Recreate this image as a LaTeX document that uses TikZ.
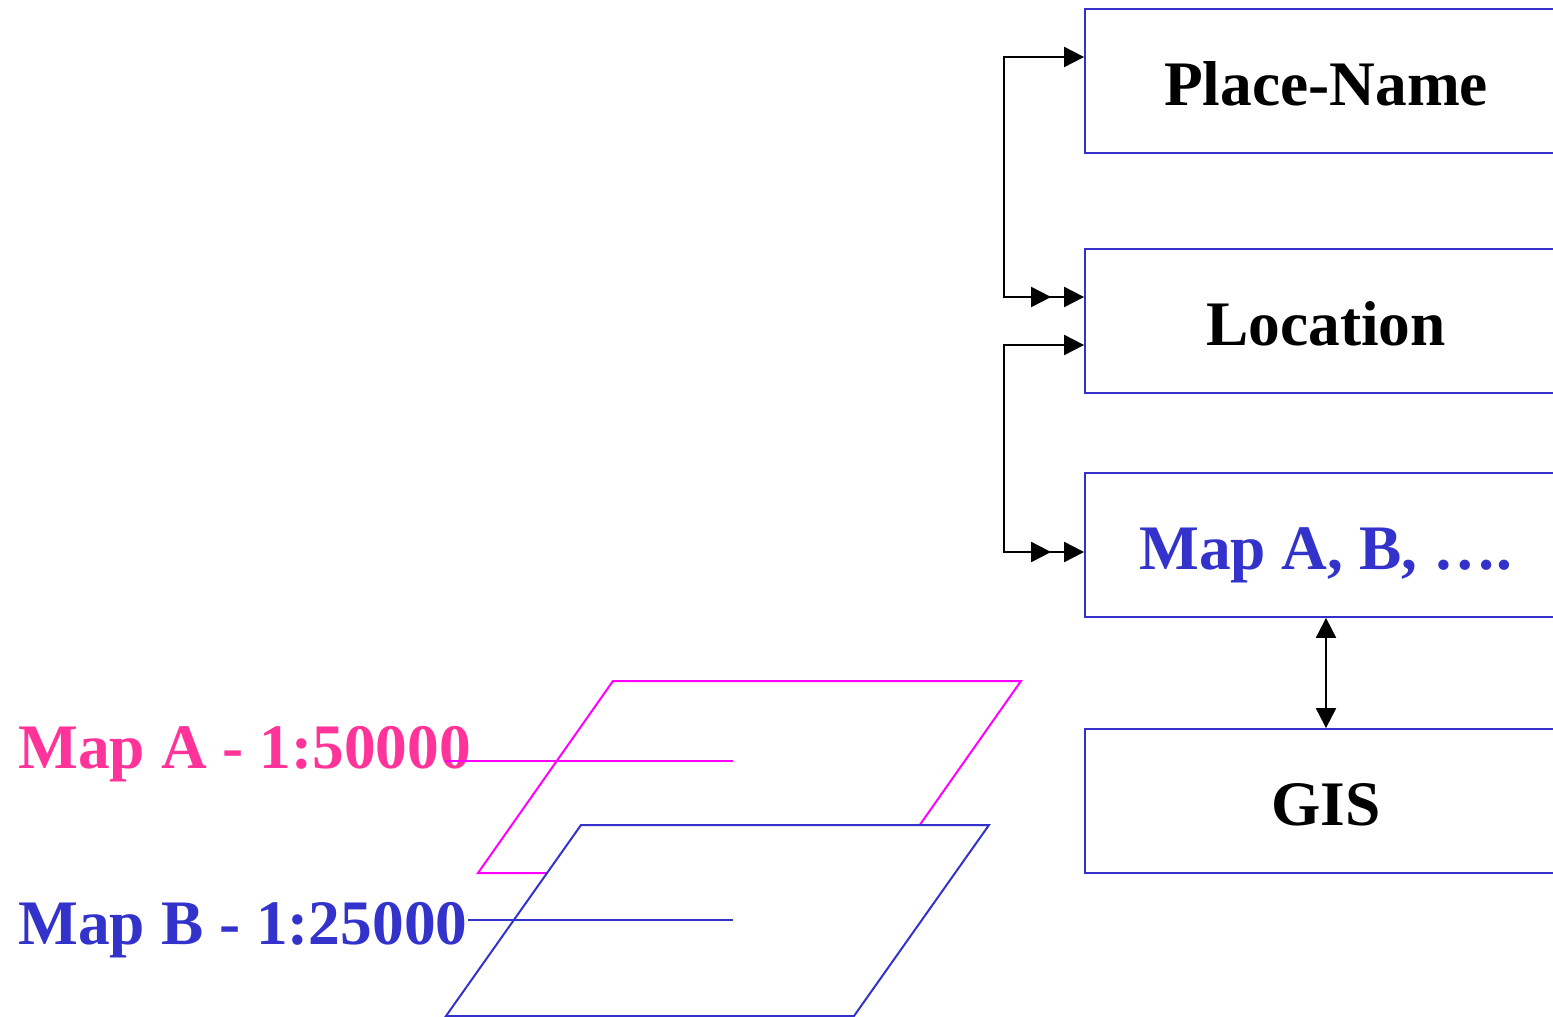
\documentclass[tikz,border=0pt]{standalone}
\usepackage{fontspec}
\setmainfont{Liberation Serif}
\usetikzlibrary{arrows.meta}
\definecolor{boxblue}{HTML}{3333CC}
\definecolor{mappink}{HTML}{FF3399}
\definecolor{sheetmag}{HTML}{FF00FF}
\begin{document}
\begin{tikzpicture}[x=0.5pt,y=-0.5pt,
  box/.style={draw=boxblue,line width=0.9pt,minimum width=241pt,minimum height=72pt,
    inner sep=0pt,text height=24pt,text depth=0pt,
    font=\fontsize{31.7}{38}\selectfont\bfseries},
  conn/.style={line width=1pt},
  maplabel/.style={anchor=base west,inner sep=0pt,font=\fontsize{31.7}{38}\selectfont\bfseries},
  sheet/.style={line width=1pt,line join=miter}]
\clip (0,0) rectangle (1553,1017);

% record boxes
\node[box] (pn)   at (1326,81)  {Place-Name};
\node[box] (loc)  at (1326,321) {Location};
\node[box,text=boxblue] (maps) at (1326,545) {Map A, B, ….};
\node[box] (gis)  at (1326,801) {GIS};

% links between records
\draw[conn,{Triangle[length=10pt,width=10pt]}-{Triangle[length=10pt,width=10pt,sep=6.5pt]Triangle[length=10pt,width=10pt]}]
  ([yshift=12pt]pn.west) -- ++(-80,0) |- ([yshift=12pt]loc.west);
\draw[conn,{Triangle[length=10pt,width=10pt]}-{Triangle[length=10pt,width=10pt,sep=6.5pt]Triangle[length=10pt,width=10pt]}]
  ([yshift=-12pt]loc.west) -- ++(-80,0) |- ([yshift=-3.5pt]maps.west);
\draw[conn,{Triangle[length=10pt,width=10pt]}-{Triangle[length=10pt,width=10pt]}]
  (maps.south) -- (gis.north);

% map sheets
\draw[sheet,draw=sheetmag] (613,681) -- (1021,681) -- (886,873) -- (478,873) -- cycle;
\node[maplabel,text=mappink] (la) at (18,768) {Map A - 1:50000};
\coordinate (aS) at (445,761);
\coordinate (aE) at (733,761);
\draw[line width=1pt,sheetmag] (aS) -- (aE);

\draw[sheet,draw=boxblue,fill=white] (581,825) -- (989,825) -- (854,1016) -- (446,1016) -- cycle;
\node[maplabel,text=boxblue] (lb) at (18,944) {Map B - 1:25000};
\coordinate (bS) at (468,920);
\coordinate (bE) at (733,920);
\draw[line width=1pt,boxblue] (bS) -- (bE);
\end{tikzpicture}
\end{document}
